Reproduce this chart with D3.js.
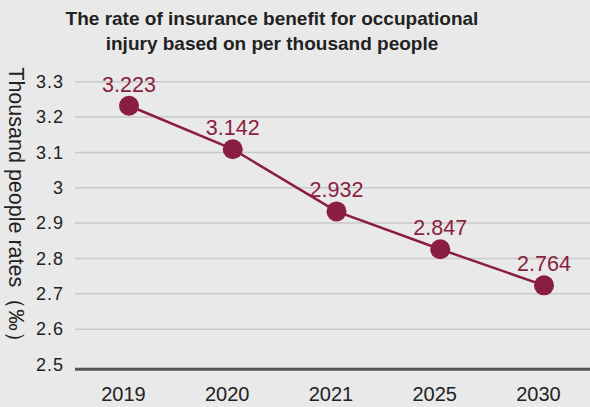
<!DOCTYPE html>
<html>
<head>
<meta charset="utf-8">
<script src="https://cdn.jsdelivr.net/npm/d3@7"></script>
<style>
  html, body { margin: 0; padding: 0; background: #e9e9e9; }
  svg { display: block; }
  text { font-family: "Liberation Sans", Arial, sans-serif; }
</style>
</head>
<body>
<svg id="chart" width="590" height="407"></svg>
<script>
const years = ["2019", "2020", "2021", "2025", "2030"];
const values = [3.232, 3.109, 2.933, 2.826, 2.724];
const valueLabels = ["3.223", "3.142", "2.932", "2.847", "2.764"];
const yTicks = [2.5, 2.6, 2.7, 2.8, 2.9, 3, 3.1, 3.2, 3.3];
const titleLines = ["The rate of insurance benefit for occupational", "injury based on per thousand people"];
const yTitle = "Thousand people rates（‰）";

const W = 590, H = 407;
const svg = d3.select("#chart");
svg.append("rect").attr("width", W).attr("height", H).attr("fill", "#e9e9e9");

const x = d3.scalePoint().domain(years).range([129, 544]);
const y = d3.scaleLinear().domain([2.5, 3.3]).range([364.5, 81.7]);

// title
svg.append("text")
  .attr("x", 272).attr("y", 25)
  .attr("text-anchor", "middle")
  .attr("font-size", 19).attr("font-weight", "bold").attr("fill", "#222")
  .selectAll("tspan").data(titleLines).join("tspan")
  .attr("x", 272).attr("dy", (d, i) => i === 0 ? 0 : 25)
  .text(d => d);

// gridlines
svg.append("g").selectAll("line").data(yTicks.filter(t => t > 2.5)).join("line")
  .attr("x1", 75).attr("x2", W)
  .attr("y1", d => y(d)).attr("y2", d => y(d))
  .attr("stroke", "#c9c9c9").attr("stroke-width", 1.5);

// y axis labels
const yAxis = d3.axisLeft(y).tickValues(yTicks).tickSize(0).tickPadding(0).tickFormat(d3.format("~g"));
const gy = svg.append("g").attr("transform", "translate(64,0)").call(yAxis);
gy.select(".domain").remove();
gy.selectAll("text").attr("font-size", 18).attr("fill", "#222").attr("letter-spacing", 1)
  .attr("font-family", "Liberation Sans, Arial, sans-serif");

// bottom axis line
svg.append("line").attr("x1", 75).attr("x2", W).attr("y1", 369.3).attr("y2", 369.3)
  .attr("stroke", "#555").attr("stroke-width", 3);

// x axis labels
const xAxis = d3.axisBottom(x).tickSize(0).tickPadding(0);
const gx = svg.append("g").attr("transform", "translate(-6,387)").call(xAxis);
gx.select(".domain").remove();
gx.selectAll("text").attr("font-size", 20).attr("fill", "#222")
  .attr("font-family", "Liberation Sans, Arial, sans-serif");

// y title
svg.append("text")
  .attr("transform", "translate(9,210) rotate(90)")
  .attr("text-anchor", "middle")
  .attr("font-size", 21.5).attr("fill", "#222")
  .text(yTitle);

// line
const color = "#8a1e40";
const data = years.map((d, i) => ({ year: d, v: values[i], label: valueLabels[i] }));
svg.append("path").datum(data)
  .attr("fill", "none").attr("stroke", color).attr("stroke-width", 2.5)
  .attr("d", d3.line().x(d => x(d.year)).y(d => y(d.v)));

svg.append("g").selectAll("circle").data(data).join("circle")
  .attr("cx", d => x(d.year)).attr("cy", d => y(d.v)).attr("r", 10)
  .attr("fill", color);

svg.append("g").selectAll("text").data(data).join("text")
  .attr("x", d => x(d.year)).attr("y", d => y(d.v) - 14)
  .attr("text-anchor", "middle").attr("font-size", 21.5).attr("fill", color)
  .text(d => d.label);
</script>
</body>
</html>
